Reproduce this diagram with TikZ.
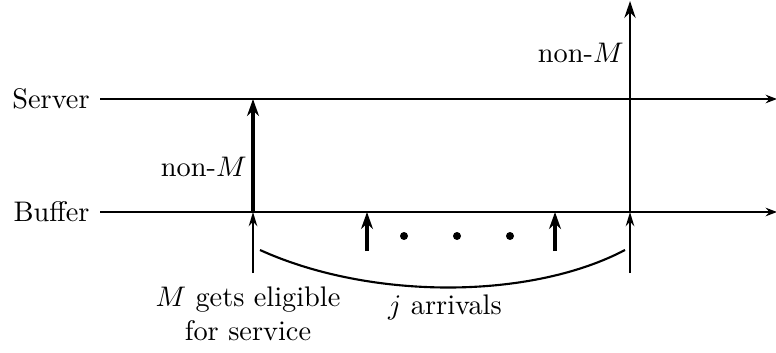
\documentclass[tikz,border=0pt]{standalone}
\usetikzlibrary{arrows.meta}
\begin{document}
\begin{tikzpicture}[x=0.353pt,y=-0.353pt,
  axis/.style={line width=0.75pt,-{Stealth[length=4pt,width=3pt]}},
  thin arrow/.style={line width=0.75pt,-{Stealth[length=5pt,width=3pt]}},
  tall arrow/.style={line width=0.8pt,-{Stealth[length=6pt,width=4pt]}},
  thick arrow/.style={line width=1.1pt,-{Stealth[length=6pt,width=4.2pt]}},
  lbl/.style={inner sep=1pt}]
\useasboundingbox (0,0) rectangle (776,352);
% time lines
\node[lbl,anchor=east] (server) at (93,99) {Server};
\node[lbl,anchor=east] (buffer) at (93,212) {Buffer};
\coordinate (s0) at (100,99);
\coordinate (s1) at (777,99);
\coordinate (b0) at (100,212);
\coordinate (b1) at (777,212);
\draw[axis] (s0) -- (s1);
\draw[axis] (b0) -- (b1);
% left: M gets eligible
\coordinate (l0) at (253,273);
\coordinate (lb) at (253,212);
\coordinate (ls) at (253,99);
\draw[thin arrow] (l0) -- (lb);
\draw[thick arrow] (lb) -- (ls);
\node[lbl,anchor=east] (nonM1) at (250,167) {non-$M$};
% right
\coordinate (r0) at (630,273);
\coordinate (rb) at (630,212);
\coordinate (rt) at (630,1);
\draw[thin arrow] (r0) -- (rb);
\draw[tall arrow] (rb) -- (rt);
\node[lbl,anchor=east] (nonM2) at (627,53) {non-$M$};
% arrivals
\coordinate (a1) at (367,251);
\coordinate (a1t) at (367,212);
\coordinate (a2) at (555,251);
\coordinate (a2t) at (555,212);
\draw[thick arrow] (a1) -- (a1t);
\draw[thick arrow] (a2) -- (a2t);
\fill (404,236) circle[radius=4];
\fill (457,236) circle[radius=4];
\fill (510,236) circle[radius=4];
% brace arc
\coordinate (c0) at (260,250);
\coordinate (c1) at (625,250);
\draw[line width=0.75pt] (c0) .. controls (370,300) and (530,300) .. (c1);
% labels
\node[lbl,align=center] (elig) at (248,314) {$M$ gets eligible\\for service};
\node[lbl] (jarr) at (445,307) {$j$ arrivals};
\end{tikzpicture}
\end{document}
